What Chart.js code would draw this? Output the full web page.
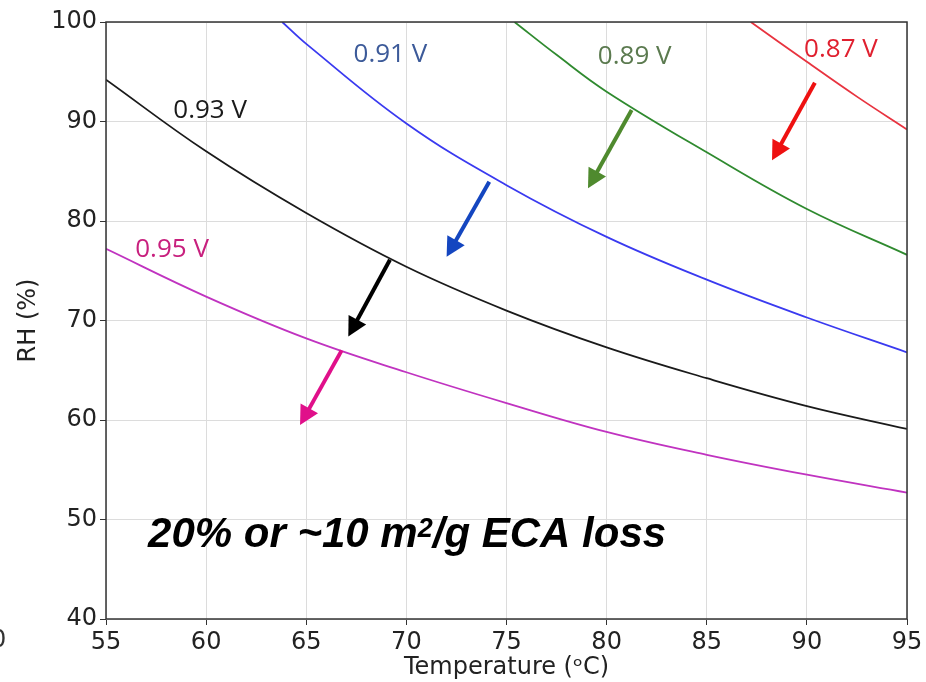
<!DOCTYPE html>
<html lang="en">
<head>
    <meta charset="UTF-8">
    <title>RH vs Temperature</title>
    <script src="https://cdn.jsdelivr.net/npm/chart.js"></script>
    <style>
        body { margin: 0; background: #ffffff; }
        #wrap { width: 926px; height: 682px; position: relative; }
    </style>
</head>
<body>
<div id="wrap"><canvas id="myChart" width="926" height="682"></canvas></div>
<script>
// data (temperature in °C, RH in %)
var temps = [55, 60, 65, 70, 75, 80, 85, 90, 95];
var rh095 = [77.2, 72.4, 68.2, 64.8, 61.7, 58.8, 56.5, 54.5, 52.7];
var rh093 = [94.2, 87.0, 80.8, 75.4, 71.0, 67.3, 64.2, 61.4, 59.1];
var temps091 = [63.8, 65, 70, 75, 80, 85, 90, 95];
var rh091 = [100, 97.8, 89.8, 83.6, 78.4, 74.1, 70.3, 66.8];
var temps089 = [75.4, 77.5, 80, 85, 90, 95];
var rh089 = [100, 96.7, 93.0, 86.9, 81.2, 76.6];
var temps087 = [87.2, 90, 92.5, 95];
var rh087 = [100, 96.0, 92.5, 89.2];
var seriesNames = ['0.95 V', '0.93 V', '0.91 V', '0.89 V', '0.87 V'];
var xTicks = [55, 60, 65, 70, 75, 80, 85, 90, 95];
var yTicks = [40, 50, 60, 70, 80, 90, 100];

function pts(xs, ys) {
    return xs.map(function (x, i) { return { x: x, y: ys[i] }; });
}

var lineColors = ['#c033c0', '#1a1a1a', '#3a3af0', '#2f8a2f', '#e8333f'];
var seriesData = [pts(temps, rh095), pts(temps, rh093), pts(temps091, rh091), pts(temps089, rh089), pts(temps087, rh087)];

// label text placement (data coords) and colours
var labelSpots = [
    { t: 58.3, rh: 77.1, color: '#c8207e' },
    { t: 60.2, rh: 91.05, color: '#1a1a1a' },
    { t: 69.2, rh: 96.7, color: '#3c5a99' },
    { t: 81.4, rh: 96.5, color: '#5b7a4f' },
    { t: 91.7, rh: 97.2, color: '#e0202f' }
];
// arrows: tail -> tip, in data coords
var arrows = [
    { t0: 66.77, r0: 67.0, t1: 64.69, r1: 59.5, color: '#e0108a' },
    { t0: 69.18, r0: 76.1, t1: 67.1, r1: 68.4, color: '#000000' },
    { t0: 74.14, r0: 83.95, t1: 72.01, r1: 76.4, color: '#1446c0' },
    { t0: 81.25, r0: 91.15, t1: 79.07, r1: 83.3, color: '#4f8a2e' },
    { t0: 90.4, r0: 93.9, t1: 88.26, r1: 86.1, color: '#ee1111' }
];

function drawArrow(ctx, x1, y1, x2, y2, color) {
    var dx = x2 - x1, dy = y2 - y1;
    var len = Math.sqrt(dx * dx + dy * dy);
    var ux = dx / len, uy = dy / len;
    var headLen = 19, headW = 10;
    var bx = x2 - ux * headLen, by = y2 - uy * headLen;
    ctx.save();
    ctx.strokeStyle = color;
    ctx.fillStyle = color;
    ctx.lineWidth = 4;
    ctx.beginPath();
    ctx.moveTo(x1, y1);
    ctx.lineTo(bx + ux * 2, by + uy * 2);
    ctx.stroke();
    ctx.beginPath();
    ctx.moveTo(x2, y2);
    ctx.lineTo(bx - uy * headW, by + ux * headW);
    ctx.lineTo(bx + uy * headW, by - ux * headW);
    ctx.closePath();
    ctx.fill();
    ctx.restore();
}

var extras = {
    id: 'extras',
    afterDatasetsDraw: function (chart) {
        var ctx = chart.ctx;
        var xs = chart.scales.x, ys = chart.scales.y;
        var a = chart.chartArea;

        // frame
        ctx.save();
        ctx.strokeStyle = '#333333';
        ctx.lineWidth = 1.5;
        ctx.strokeRect(a.left, a.top, a.right - a.left, a.bottom - a.top);
        ctx.restore();

        // series labels
        ctx.save();
        ctx.font = '26px "Open Sans"';
        ctx.textAlign = 'center';
        ctx.textBaseline = 'middle';
        labelSpots.forEach(function (s, i) {
            ctx.fillStyle = s.color;
            ctx.fillText(seriesNames[i], xs.getPixelForValue(s.t), ys.getPixelForValue(s.rh));
        });
        ctx.restore();

        arrows.forEach(function (ar) {
            drawArrow(ctx, xs.getPixelForValue(ar.t0), ys.getPixelForValue(ar.r0),
                xs.getPixelForValue(ar.t1), ys.getPixelForValue(ar.r1), ar.color);
        });

        // big note
        ctx.save();
        ctx.fillStyle = '#000000';
        ctx.textBaseline = 'alphabetic';
        ctx.textAlign = 'left';
        var x = xs.getPixelForValue(57.1);
        var y = ys.getPixelForValue(47.2);
        ctx.font = 'italic bold 42px "Liberation Sans", Arial, sans-serif';
        var part1 = '20% or ~10 m';
        ctx.fillText(part1, x, y);
        x += ctx.measureText(part1).width;
        ctx.font = 'italic bold 27px "Liberation Sans", Arial, sans-serif';
        ctx.fillText('2', x, y - 10);
        x += ctx.measureText('2').width;
        ctx.font = 'italic bold 42px "Liberation Sans", Arial, sans-serif';
        ctx.fillText('/g ECA loss', x, y);
        ctx.restore();

        // clipped stray character at the left edge
        ctx.save();
        ctx.font = '24px "DejaVu Sans"';
        ctx.fillStyle = '#333333';
        ctx.textBaseline = 'middle';
        ctx.fillText('0', -9, 641);
        ctx.restore();
    }
};

var tickFont = { family: 'DejaVu Sans', size: 24 };

var ctx = document.getElementById('myChart').getContext('2d');
var myChart = new Chart(ctx, {
    type: 'line',
    data: {
        datasets: seriesData.map(function (d, i) {
            return {
                label: seriesNames[i],
                data: d,
                borderColor: lineColors[i],
                borderWidth: 1.8,
                pointRadius: 0,
                fill: false,
                tension: 0.4
            };
        })
    },
    options: {
        responsive: false,
        animation: false,
        layout: { padding: { top: 22, right: 19, bottom: 0, left: 0 } },
        plugins: { legend: { display: false }, tooltip: { enabled: false } },
        scales: {
            x: {
                type: 'linear',
                min: 55,
                max: 95,
                afterBuildTicks: function (s) { s.ticks = xTicks.map(function (v) { return { value: v }; }); },
                afterFit: function (s) { s.height = 63; },
                ticks: { font: tickFont, color: '#222222', padding: 3, maxRotation: 0 },
                grid: { color: '#dcdcdc', tickLength: 6, tickColor: '#333333' },
                border: { display: false },
                title: {
                    display: true,
                    text: 'Temperature (ᵒC)',
                    font: tickFont,
                    color: '#222222',
                    padding: { top: 0, bottom: 0 }
                }
            },
            y: {
                type: 'linear',
                min: 40,
                max: 100,
                afterBuildTicks: function (s) { s.ticks = yTicks.map(function (v) { return { value: v }; }); },
                afterFit: function (s) { s.width = 106; },
                ticks: { font: tickFont, color: '#222222', padding: 3 },
                grid: { color: '#dcdcdc', tickLength: 6, tickColor: '#333333' },
                border: { display: false },
                title: {
                    display: true,
                    text: 'RH (%)',
                    font: tickFont,
                    color: '#222222',
                    padding: { top: 14, bottom: 0 }
                }
            }
        }
    },
    plugins: [extras]
});
</script>
</body>
</html>
